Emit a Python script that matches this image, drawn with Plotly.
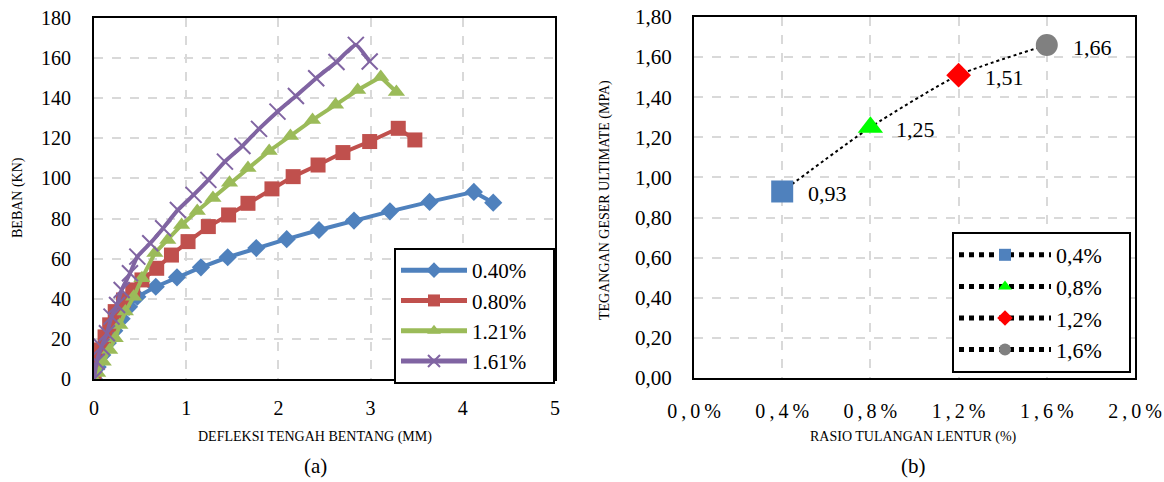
import plotly.graph_objects as go

# ---- (a) load vs. midspan deflection ----
defl_040 = [0, 0.04, 0.09, 0.15, 0.22, 0.30, 0.38, 0.47, 0.67, 0.90, 1.16, 1.45, 1.76, 2.09, 2.44, 2.82, 3.21, 3.64, 4.12, 4.33]
load_040 = [0, 6, 12, 18, 24, 30, 36, 41, 46, 50.7, 55.7, 60.7, 65.3, 69.7, 74.3, 79, 83.6, 88.3, 93.3, 87.9]

defl_080 = [0, 0.01, 0.065, 0.12, 0.17, 0.23, 0.32, 0.42, 0.52, 0.68, 0.84, 1.02, 1.24, 1.46, 1.67, 1.93, 2.16, 2.43, 2.70, 2.99, 3.30, 3.48]
load_080 = [0, 8.6, 14.5, 21, 27, 33.6, 39.4, 44.4, 49.4, 55.2, 61.8, 68.5, 76, 81.8, 87.6, 94.8, 100.9, 106.7, 112.9, 118.4, 125, 119.2]

defl_121 = [0, 0.04, 0.10, 0.17, 0.23, 0.28, 0.34, 0.43, 0.52, 0.66, 0.80, 0.95, 1.12, 1.29, 1.47, 1.67, 1.90, 2.13, 2.37, 2.62, 2.86, 3.11, 3.28]
load_121 = [0, 3, 8.6, 14.5, 20.3, 26.9, 33.6, 41, 50.2, 62.8, 69.3, 76.8, 83.8, 90.3, 97.8, 105.2, 113.7, 121.2, 129.2, 136.7, 144.1, 150.6, 143.1]

defl_161 = [0, 0.03, 0.08, 0.14, 0.19, 0.25, 0.30, 0.39, 0.47, 0.61, 0.75, 0.91, 1.08, 1.24, 1.42, 1.61, 1.79, 1.99, 2.19, 2.41, 2.63, 2.84, 2.99]
load_161 = [0, 8.6, 16.1, 22.8, 31.1, 36.9, 44.4, 52.7, 61, 67.7, 75.2, 84.3, 91.8, 99.3, 108.4, 116.2, 124.7, 133.3, 141.1, 150, 158.1, 166.6, 158.3]

series_a_names = ["0.40%", "0.80%", "1.21%", "1.61%"]

# ---- (b) ultimate shear stress vs. flexural reinforcement ratio ----
ratio_b = [0.004, 0.008, 0.012, 0.016]
stress_b = [0.93, 1.25, 1.51, 1.66]
series_b_names = ["0,4%", "0,8%", "1,2%", "1,6%"]
x_ticks_b = [0, 0.004, 0.008, 0.012, 0.016, 0.020]
x_ticktext_b = ["0\u2009,\u20090\u2009%", "0\u2009,\u20094\u2009%", "0\u2009,\u20098\u2009%",
                "1\u2009,\u20092\u2009%", "1\u2009,\u20096\u2009%", "2\u2009,\u20090\u2009%"]
y_ticks_b = [0, 0.2, 0.4, 0.6, 0.8, 1.0, 1.2, 1.4, 1.6, 1.8]
y_ticktext_b = [f"{v:.2f}".replace(".", ",") for v in y_ticks_b]

FONT = "Liberation Serif, Times New Roman, serif"
W, H = 1164, 482
PAD = "\u00a0" * 4  # right-hand breathing room inside the legend boxes

fig = go.Figure()

colors_a = ["#4F81BD", "#C0504D", "#9BBB59", "#8064A2"]
symbols_a = ["diamond", "square", "triangle-up", "x-thin"]
sizes_a = [14, 15, 15, 16]
data_a = [(defl_040, load_040), (defl_080, load_080), (defl_121, load_121), (defl_161, load_161)]

for (xs, ys), name, c, s, sz in zip(data_a, series_a_names, colors_a, symbols_a, sizes_a):
    marker = dict(color=c, symbol=s, size=sz)
    if s == "x-thin":
        marker["line"] = dict(color=c, width=2)
    fig.add_trace(go.Scatter(
        x=xs, y=ys, name=name + PAD, mode="lines+markers",
        line=dict(color=c, width=4, shape="spline" if s == "x-thin" else "linear", smoothing=0.4),
        marker=marker, xaxis="x", yaxis="y", legend="legend",
    ))

# dotted trend through the four points
fig.add_trace(go.Scatter(
    x=ratio_b, y=stress_b, mode="lines", showlegend=False,
    line=dict(color="black", width=2, dash="dot", shape="spline", smoothing=0.6),
    xaxis="x2", yaxis="y2", hoverinfo="skip",
))

colors_b = ["#4F81BD", "#00FF00", "#FF0000", "#808080"]
symbols_b = ["square", "triangle-up", "diamond", "circle"]
sizes_b = [22, 22, 19, 22]
for xv, yv, name, c, s, sz in zip(ratio_b, stress_b, series_b_names, colors_b, symbols_b, sizes_b):
    fig.add_trace(go.Scatter(
        x=[xv], y=[yv], name=name + PAD, mode="lines+markers",
        line=dict(color="black", width=1.5, dash="dot"),
        marker=dict(color=c, symbol=s, size=sz),
        xaxis="x2", yaxis="y2", legend="legend2",
    ))
    fig.add_annotation(
        x=xv, y=yv, xref="x2", yref="y2", text=f"{yv:.2f}".replace(".", ","),
        showarrow=False, xanchor="left", yanchor="middle", xshift=24, yshift=-2,
        font=dict(family=FONT, size=22, color="black"),
    )

def px_x(p):
    return p / W

def px_y(p):
    return 1 - p / H

grid = dict(showgrid=True, gridcolor="#d9d9d9", gridwidth=2, griddash="dash",
            zeroline=False, showline=True, linecolor="black", linewidth=2, mirror=True,
            ticks="", automargin=False, tickfont=dict(family=FONT, size=20, color="black"))

fig.update_layout(
    width=W, height=H, margin=dict(l=0, r=0, t=0, b=0),
    paper_bgcolor="white", plot_bgcolor="white",
    font=dict(family=FONT, color="black"),
    xaxis=dict(domain=[px_x(94), px_x(555)], range=[0, 5], dtick=1, anchor="y",
               ticklabelstandoff=10, **grid),
    yaxis=dict(domain=[px_y(379), px_y(18)], range=[0, 180], dtick=20, anchor="x",
               ticklabelstandoff=17, **grid),
    xaxis2=dict(domain=[px_x(694), px_x(1135)], range=[0, 0.02], anchor="y2",
                tickvals=x_ticks_b, ticktext=x_ticktext_b, ticklabelstandoff=14,
                **{**grid, "tickfont": dict(family=FONT, size=20, color="black")}),
    yaxis2=dict(domain=[px_y(378), px_y(17)], range=[0, 1.8], anchor="x2",
                tickvals=y_ticks_b, ticktext=y_ticktext_b, ticklabelstandoff=16,
                **{**grid, "tickfont": dict(family=FONT, size=21, color="black")}),
    legend=dict(x=px_x(394), y=px_y(248), xanchor="left", yanchor="top",
                bgcolor="white", bordercolor="black", borderwidth=2,
                font=dict(family=FONT, size=21, color="black"),
                itemsizing="constant", itemwidth=66, tracegroupgap=0),
    legend2=dict(x=px_x(952), y=px_y(232), xanchor="left", yanchor="top",
                 bgcolor="white", bordercolor="black", borderwidth=2,
                 font=dict(family=FONT, size=22, color="black"),
                 itemsizing="constant", itemwidth=92, tracegroupgap=0),
    showlegend=True,
)

titles = [
    ("DEFLEKSI TENGAH BENTANG (MM)", 315, 437, 14, 0),
    ("(a)", 315, 466, 21, 0),
    ("BEBAN (KN)", 18, 198, 14, -90),
    ("RASIO TULANGAN LENTUR (%)", 913, 437, 14, 0),
    ("(b)", 913, 466, 21, 0),
    ("TEGANGAN GESER ULTIMATE (MPA)", 605, 200, 14, -90),
]
for text, x, y, size, ang in titles:
    fig.add_annotation(x=px_x(x), y=px_y(y), xref="paper", yref="paper", text=text,
                       showarrow=False, xanchor="center", yanchor="middle", textangle=ang,
                       font=dict(family=FONT, size=size, color="black"))

fig.write_html("out.html")
